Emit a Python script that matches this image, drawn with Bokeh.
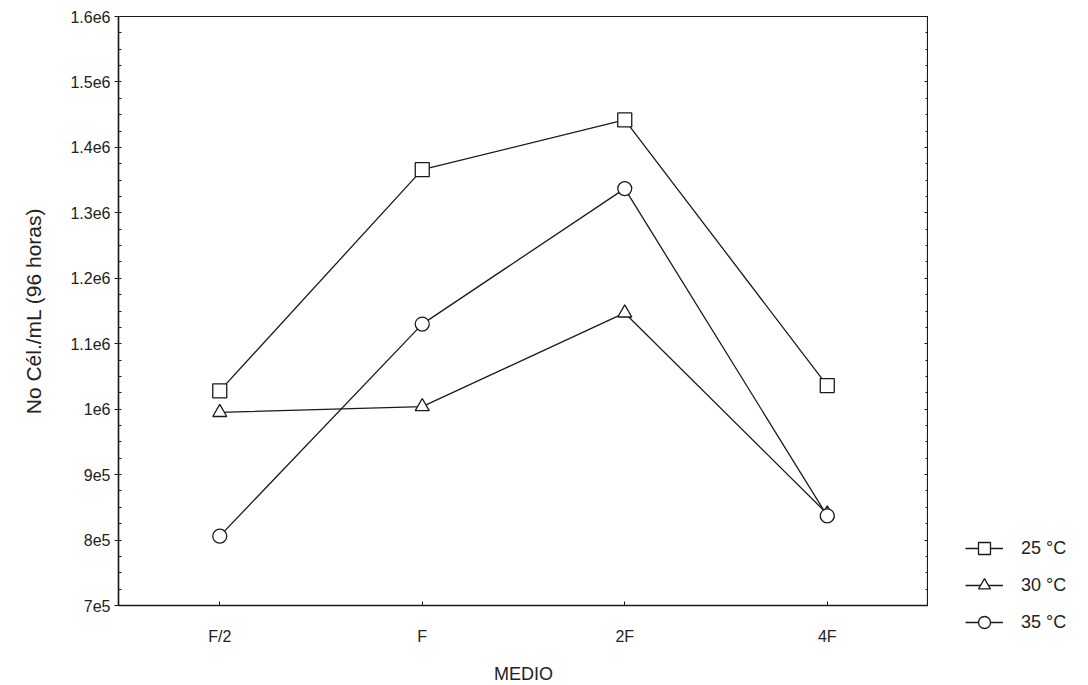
from bokeh.plotting import figure
from bokeh.layouts import row, column
from bokeh.models import (FactorRange, Range1d, LinearAxis, FixedTicker, Legend,
                          LegendItem, ColumnDataSource)
from bokeh.embed import file_html
from bokeh.resources import INLINE

# ---- data ----
categories = ["F/2", "F", "2F", "4F"]
series_names = ["25 °C", "30 °C", "35 °C"]
cel_25 = [1.028e6, 1.366e6, 1.442e6, 1.036e6]
cel_30 = [0.995e6, 1.004e6, 1.147e6, 0.840e6]
cel_35 = [0.806e6, 1.130e6, 1.337e6, 0.837e6]
markers = ["square", "triangle", "circle"]

y_ticks = [700000, 800000, 900000, 1000000, 1100000, 1200000,
           1300000, 1400000, 1500000, 1600000]
y_tick_labels = ["7e5", "8e5", "9e5", "1e6", "1.1e6", "1.2e6",
                 "1.3e6", "1.4e6", "1.5e6", "1.6e6"]
y_minor = [y_ticks[0] + i * 25000 for i in range(37)]

FONT = "Liberation Sans"
INK = "#1a1a1a"
TXT = "#222222"

p = figure(frame_width=810, frame_height=589,
           x_range=FactorRange(*categories),
           y_range=Range1d(y_ticks[0], y_ticks[-1]),
           output_backend="svg", toolbar_location=None,
           min_border_left=118, min_border_right=0,
           min_border_top=16, min_border_bottom=80,
           x_axis_label="MEDIO", y_axis_label="No Cél./mL (96 horas)")
p.background_fill_color = "white"
p.border_fill_color = "white"
p.outline_line_color = INK
p.outline_line_width = 1.2
p.xgrid.grid_line_color = None
p.ygrid.grid_line_color = None

# left axis
ya = p.yaxis[0]
ya.ticker = FixedTicker(ticks=y_ticks, minor_ticks=y_minor)
ya.major_label_overrides = {t: l for t, l in zip(y_ticks, y_tick_labels)}
ya.major_tick_out = 4
ya.major_tick_in = 0
ya.minor_tick_in = 3
ya.minor_tick_out = 0

# right axis (ticks only)
ra = LinearAxis(ticker=FixedTicker(ticks=y_ticks, minor_ticks=y_minor),
                major_label_overrides={t: "" for t in y_ticks},
                major_label_standoff=0,
                major_tick_in=4, major_tick_out=0,
                minor_tick_in=3, minor_tick_out=0)
p.add_layout(ra, "right")

xa = p.xaxis[0]
xa.major_tick_in = 4
xa.major_tick_out = 0

for ax in [ya, ra, xa]:
    ax.axis_line_color = INK
    ax.axis_line_width = 1.5
    ax.major_tick_line_color = INK
    ax.minor_tick_line_color = INK
    ax.major_label_text_font = FONT
    ax.major_label_text_color = TXT
    ax.axis_label_text_font = FONT
    ax.axis_label_text_font_style = "normal"
    ax.axis_label_text_color = TXT
    ax.axis_label_text_font_size = "18px"

ya.axis_label_text_font_size = "21px"
ya.major_label_text_font_size = "16px"
xa.major_label_text_font_size = "16px"
xa.major_label_standoff = 22
xa.axis_label_standoff = 16
ya.major_label_standoff = 4
ya.axis_label_standoff = 22

for name, vals, mk in zip(series_names, [cel_25, cel_30, cel_35], markers):
    src = ColumnDataSource(dict(x=categories, y=vals))
    p.line("x", "y", source=src, line_color=INK, line_width=1.3)
    p.scatter("x", "y", source=src, marker=mk, size=14,
              fill_color="white", line_color=INK, line_width=1.3)

# ---- legend panel (separate narrow figure at the right) ----
lf = figure(width=150, height=685, x_range=Range1d(0, 1), y_range=Range1d(0, 1),
            x_axis_type=None, y_axis_type=None,
            output_backend="svg", toolbar_location=None,
            min_border=0, min_border_left=0, min_border_right=0,
            min_border_top=0, min_border_bottom=0)
lf.grid.visible = False
lf.outline_line_color = None
lf.background_fill_color = "white"
lf.border_fill_color = "white"

items = []
for name, mk in zip(series_names, markers):
    dummy = ColumnDataSource(dict(x=[float("nan")], y=[float("nan")]))
    ln = lf.line("x", "y", source=dummy, line_color=INK, line_width=1.3)
    sc = lf.scatter("x", "y", source=dummy, marker=mk, size=13,
                    fill_color="white", line_color=INK, line_width=1.3)
    items.append(LegendItem(label=name, renderers=[ln, sc]))

legend = Legend(items=items, location=(37, 48),
                label_text_font=FONT, label_text_font_size="18px",
                label_text_color=TXT,
                glyph_width=38, glyph_height=30, label_height=30,
                label_standoff=18, spacing=7, padding=0, margin=0,
                border_line_color=None, background_fill_alpha=0)
lf.add_layout(legend)

layout = row(p, column(lf))
open("out.html", "w").write(file_html(layout, INLINE))
